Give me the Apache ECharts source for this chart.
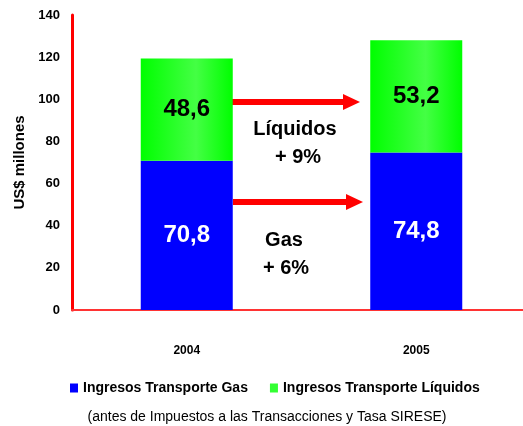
<!DOCTYPE html>
<html>
<head>
<meta charset="utf-8">
<script src="https://cdn.jsdelivr.net/npm/echarts@6/dist/echarts.min.js"></script>
<style>
  html, body { margin: 0; padding: 0; background: #fff; overflow: hidden; }
  #chart { width: 531px; height: 426px; }
</style>
</head>
<body>
<div id="chart"></div>
<script>
const years = ['2004', '2005'];
const gas = [70.8, 74.8];
const liquidos = [48.6, 53.2];
const yTicks = [0, 20, 40, 60, 80, 100, 120, 140];

const fmt = v => String(v).replace('.', ',');
const font = 'Arial, "Liberation Sans", sans-serif';

const greenFill = new echarts.graphic.LinearGradient(0, 0, 1, 0, [
  { offset: 0, color: '#00ff00' },
  { offset: 0.6, color: '#44ff44' },
  { offset: 1, color: '#00ff00' }
]);

// red arrow: shaft + head
function arrow(x1, x2, y) {
  return [
    { type: 'rect', shape: { x: x1, y: y - 3, width: x2 - 17 - x1, height: 6 }, style: { fill: '#ff0000' } },
    { type: 'polygon', shape: { points: [[x2 - 17, y - 8], [x2, y], [x2 - 17, y + 8]] }, style: { fill: '#ff0000' } }
  ];
}
function note(text, x, y) {
  return { type: 'text', x: x, y: y, style: { text: text, font: 'bold 20px ' + font, fill: '#000', align: 'center', verticalAlign: 'middle' } };
}

const chart = echarts.init(document.getElementById('chart'));
chart.setOption({
  animation: false,
  textStyle: { fontFamily: font },
  grid: { left: 72, right: 0, top: 15, bottom: 116 },
  legend: {
    top: 376, left: 65,
    itemWidth: 8, itemHeight: 9, itemGap: 22,
    icon: 'rect',
    textStyle: { fontWeight: 'bold', fontSize: 14, color: '#000' },
    data: [
      { name: 'Ingresos Transporte Gas', itemStyle: { color: '#0000ff' } },
      { name: 'Ingresos Transporte Líquidos', itemStyle: { color: '#33ff33' } }
    ]
  },
  xAxis: {
    type: 'category', data: years,
    axisLine: { lineStyle: { color: '#ff3333', width: 2 } },
    axisTick: { show: false },
    axisLabel: { margin: 35, fontWeight: 'bold', fontSize: 12, color: '#000' }
  },
  yAxis: {
    type: 'value', min: yTicks[0], max: yTicks[yTicks.length - 1], interval: 20,
    name: 'US$ millones', nameLocation: 'middle', nameGap: 45,
    nameTextStyle: { fontWeight: 'bold', fontSize: 15, color: '#000' },
    axisLine: { show: true, lineStyle: { color: '#ff0000', width: 3 } },
    axisTick: { show: false },
    splitLine: { show: false },
    axisLabel: { margin: 12, fontWeight: 'bold', fontSize: 13, color: '#000' }
  },
  series: [
    {
      name: 'Ingresos Transporte Gas', type: 'bar', stack: 'total', barWidth: 92,
      data: gas, itemStyle: { color: '#0000ff' },
      label: { show: true, position: 'inside', formatter: p => fmt(p.value), color: '#fff', fontWeight: 'bold', fontSize: 24 }
    },
    {
      name: 'Ingresos Transporte Líquidos', type: 'bar', stack: 'total', barWidth: 92,
      data: liquidos, itemStyle: { color: greenFill },
      label: { show: true, position: 'inside', formatter: p => fmt(p.value), color: '#000', fontWeight: 'bold', fontSize: 24 }
    }
  ],
  graphic: [
    ...arrow(232, 360, 102),
    ...arrow(233, 363, 202),
    note('Líquidos', 295, 129),
    note('+ 9%', 298, 157),
    note('Gas', 284, 240),
    note('+ 6%', 286, 268),
    {
      type: 'text', x: 267, y: 417,
      style: { text: '(antes de Impuestos a las Transacciones y Tasa SIRESE)', font: '14px ' + font, fill: '#000', align: 'center', verticalAlign: 'middle' }
    }
  ]
});
</script>
</body>
</html>
